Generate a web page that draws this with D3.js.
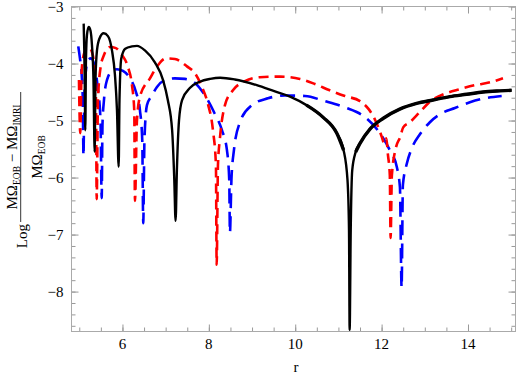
<!DOCTYPE html>
<html>
<head>
<meta charset="utf-8">
<script src="https://cdn.jsdelivr.net/npm/d3@7"></script>
<style>
  body { margin: 0; background: #fff; }
  svg text { font-family: "Liberation Serif", "DejaVu Serif", serif; }
</style>
</head>
<body>
<div id="chart"></div>
<script>
(function(){

var width = 520,
    height = 377;

// values: [r, log value]
var blackPts = [
  [5.102,-3.30],[5.116,-3.77],[5.127,-4.38],[5.139,-5.17],[5.155,-3.94],[5.178,-3.50],
  [5.218,-3.36],[5.259,-3.42],[5.294,-3.68],[5.329,-4.29],[5.356,-5.55],[5.375,-4.29],
  [5.410,-3.77],[5.468,-3.56],[5.565,-3.47],[5.664,-3.52],[5.757,-3.77],[5.826,-4.20],
  [5.873,-4.82],[5.912,-5.81],[5.931,-4.64],[5.972,-3.91],[6.065,-3.74],[6.22,-3.70],
  [6.336,-3.69],[6.52,-3.77],[6.75,-3.98],[6.94,-4.29],[7.05,-4.64],[7.15,-5.17],
  [7.20,-6.04],[7.23,-6.76],[7.26,-5.87],[7.31,-4.99],[7.38,-4.64],[7.56,-4.43],
  [7.79,-4.32],[8.03,-4.27],[8.26,-4.25],[8.60,-4.28],[9.11,-4.38],[9.53,-4.49],
  [9.88,-4.58],[10.26,-4.73],[10.64,-4.94],[10.96,-5.22],[11.12,-5.52],[11.21,-6.04],
  [11.245,-6.92],[11.26,-8.67],[11.285,-6.92],[11.32,-5.87],[11.40,-5.55],[11.50,-5.40],
  [11.73,-5.15],[12.04,-4.96],[12.42,-4.80],[12.81,-4.70],[13.19,-4.64],[13.58,-4.58],
  [13.97,-4.54],[14.35,-4.50],[14.74,-4.48],[15.01,-4.47]
];

var redPts = [
  [4.993,-4.29],[5.023,-5.22],[5.051,-4.20],[5.086,-3.91],[5.155,-3.75],[5.225,-3.72],
  [5.294,-3.80],[5.352,-4.08],[5.387,-4.64],[5.403,-6.38],[5.433,-4.64],[5.491,-4.08],
  [5.572,-3.85],[5.711,-3.71],[5.850,-3.73],[5.988,-3.85],[6.127,-4.06],[6.220,-4.38],
  [6.273,-4.82],[6.289,-6.41],[6.336,-4.99],[6.405,-4.58],[6.637,-4.26],[6.822,-4.03],
  [7.007,-3.91],[7.215,-3.92],[7.493,-4.05],[7.678,-4.17],[7.840,-4.41],[7.979,-4.71],
  [8.095,-5.17],[8.164,-5.78],[8.181,-7.53],[8.211,-5.78],[8.257,-5.31],[8.373,-4.73],
  [8.558,-4.47],[8.836,-4.31],[9.183,-4.24],[9.646,-4.23],[10.109,-4.27],[10.456,-4.36],
  [10.80,-4.47],[11.15,-4.57],[11.50,-4.66],[11.70,-4.80],[11.85,-4.99],[11.94,-5.15],
  [12.006,-5.29],[12.06,-5.40],[12.11,-5.31],[12.145,-5.59],[12.19,-5.96],[12.208,-7.06],
  [12.238,-5.96],[12.33,-5.48],[12.43,-5.29],[12.50,-5.12],[12.655,-5.03],[12.887,-4.85],
  [13.118,-4.67],[13.465,-4.53],[13.81,-4.45],[14.16,-4.38],[14.51,-4.33],[14.81,-4.26]
];

var bluePts = [
  [4.977,-3.70],[5.016,-3.91],[5.056,-4.20],[5.081,-4.64],[5.097,-5.62],[5.116,-4.64],
  [5.144,-4.20],[5.201,-3.94],[5.271,-3.91],[5.352,-4.03],[5.421,-4.38],[5.491,-4.99],
  [5.519,-6.36],[5.537,-5.08],[5.572,-4.64],[5.641,-4.29],[5.757,-4.13],[5.873,-4.10],
  [6.012,-4.13],[6.174,-4.26],[6.313,-4.50],[6.405,-4.82],[6.458,-5.34],[6.481,-6.80],
  [6.509,-5.34],[6.567,-4.73],[6.683,-4.56],[6.799,-4.41],[6.984,-4.29],[7.215,-4.26],
  [7.447,-4.27],[7.678,-4.34],[7.91,-4.56],[8.118,-4.85],[8.303,-5.17],[8.419,-5.52],
  [8.472,-6.04],[8.488,-6.97],[8.523,-6.04],[8.581,-5.52],[8.72,-5.03],[8.998,-4.73],
  [9.368,-4.61],[9.762,-4.56],[10.225,-4.57],[10.69,-4.66],[11.15,-4.77],[11.613,-4.94],
  [11.958,-5.22],[12.19,-5.52],[12.354,-5.82],[12.424,-6.17],[12.463,-7.93],[12.493,-6.13],
  [12.586,-5.75],[12.703,-5.48],[12.887,-5.24],[13.118,-5.03],[13.396,-4.87],[13.697,-4.78],
  [14.044,-4.68],[14.39,-4.61],[14.78,-4.57]
];

var xTickLabels = [6, 8, 10, 12, 14];
var yTickLabels = [-8, -7, -6, -5, -4, -3];

var serif = "Liberation Serif, DejaVu Serif, serif"

var svg = d3.select("#chart")
  .append("svg")
  .attr("width", width)
  .attr("height", height)

var x = d3.scaleLinear().domain([4.82, 15.1]).range([71.5, 515.5])
var y = d3.scaleLinear().domain([-8.7, -3]).range([331.5, 6.5])

svg.append("clipPath").attr("id", "plotclip")
  .append("rect")
  .attr("x", x.range()[0]).attr("y", y.range()[1])
  .attr("width", x.range()[1] - x.range()[0])
  .attr("height", y.range()[0] - y.range()[1])

// frame with ticks on all four sides
var axisColor = "#999"
var minorX = d3.range(5, 15.01, 0.5)
var minorY = d3.range(-8.6, -2.99, 0.2).map(function(v){ return Math.round(v*10)/10 })

function frameAxis(axis, pos, major, minor){
  var g = svg.append("g").attr("transform", pos)
  g.call(axis.tickValues(minor).tickSize(4).tickFormat(""))
  g.select(".domain").remove()
  var g2 = svg.append("g").attr("transform", pos)
  g2.call(axis.tickValues(major).tickSize(7).tickFormat(""))
  g2.select(".domain").remove()
}

var fmt = function(d){ return d < 0 ? "\u2212" + Math.abs(d) : d }

frameAxis(d3.axisTop(x), "translate(0," + y.range()[0] + ")", xTickLabels, minorX)
frameAxis(d3.axisBottom(x), "translate(0," + y.range()[1] + ")", xTickLabels, minorX)
frameAxis(d3.axisRight(y), "translate(" + x.range()[0] + ",0)", yTickLabels, minorY)
frameAxis(d3.axisLeft(y), "translate(" + x.range()[1] + ",0)", yTickLabels, minorY)
svg.selectAll(".tick line").attr("stroke", axisColor)

svg.append("rect")
  .attr("x", x.range()[0]).attr("y", y.range()[1])
  .attr("width", x.range()[1] - x.range()[0])
  .attr("height", y.range()[0] - y.range()[1])
  .attr("fill", "none")
  .attr("stroke", "#aaa")
  .attr("stroke-width", 1)

// tick labels
svg.selectAll(".xlab")
  .data(xTickLabels)
  .enter()
  .append("text")
  .attr("x", function(d){ return x(d) })
  .attr("y", y.range()[0] + 17)
  .attr("text-anchor", "middle")
  .attr("font-family", serif)
  .attr("font-size", 15)
  .text(fmt)

svg.selectAll(".ylab")
  .data(yTickLabels)
  .enter()
  .append("text")
  .attr("x", x.range()[0] - 8)
  .attr("y", function(d){ return y(d) + 5 })
  .attr("text-anchor", "end")
  .attr("font-family", serif)
  .attr("font-size", 15)
  .text(fmt)

svg.append("text")
  .attr("x", 296)
  .attr("y", 372)
  .attr("text-anchor", "middle")
  .attr("font-family", serif)
  .attr("font-size", 15)
  .text("r")

// y label: Log (MΩ_EOB − MΩ_IMRI) / MΩ_EOB
var yl = svg.append("g")
  .attr("transform", "translate(20.7,157) rotate(-90)")
  .attr("font-family", serif)
yl.append("line")
  .attr("x1", -65).attr("x2", 65)
  .attr("stroke", "#000").attr("stroke-width", 0.8)
var num = yl.append("text").attr("x", 0).attr("y", -4)
  .attr("text-anchor", "middle").attr("font-size", 15)
num.append("tspan").text("M\u03A9")
num.append("tspan").attr("font-size", 9.5).attr("dy", 3).text("EOB")
num.append("tspan").attr("dy", -3).text(" \u2212 M\u03A9")
num.append("tspan").attr("font-size", 9.5).attr("dy", 3).text("IMRI")
var den = yl.append("text").attr("x", 0).attr("y", 21)
  .attr("text-anchor", "middle").attr("font-size", 15)
den.append("tspan").text("M\u03A9")
den.append("tspan").attr("font-size", 9.5).attr("dy", 3).text("EOB")
yl.append("text")
  .attr("x", -67).attr("y", 6)
  .attr("text-anchor", "end")
  .attr("font-size", 15)
  .text("Log")

// curves
var line = d3.line()
  .x(function(d){ return x(d[0]) })
  .y(function(d){ return y(d[1]) })
  .curve(d3.curveMonotoneX)

var plot = svg.append("g").attr("clip-path", "url(#plotclip)")

plot.append("path")
  .datum(bluePts)
  .attr("d", line)
  .attr("fill", "none")
  .attr("stroke", "#0000ff")
  .attr("stroke-width", 2.6)
  .attr("stroke-dasharray", "15,8")

plot.append("path")
  .datum(redPts)
  .attr("d", line)
  .attr("fill", "none")
  .attr("stroke", "#ff0000")
  .attr("stroke-width", 2.6)
  .attr("stroke-dasharray", "10,6")

plot.append("path")
  .datum(blackPts)
  .attr("d", line)
  .attr("fill", "none")
  .attr("stroke", "#000")
  .attr("stroke-width", 2.4)

// the noisy far part of the black curve reads thicker, on both sides of the dip
var noisyBefore = blackPts.filter(function(d){ return d[0] > 10.2 && d[0] < 11.15 })
var noisyAfter = blackPts.filter(function(d){ return d[0] > 11.35 })
plot.selectAll(".noisy")
  .data([noisyBefore, noisyAfter])
  .enter()
  .append("path")
  .attr("d", line)
  .attr("fill", "none")
  .attr("stroke", "#000")
  .attr("stroke-width", 3.4)

})();
</script>
</body>
</html>
